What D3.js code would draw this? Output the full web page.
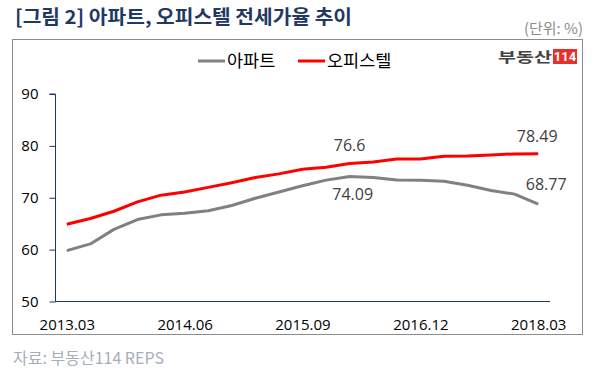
<!DOCTYPE html>
<html>
<head>
<meta charset="utf-8">
<script src="https://cdn.jsdelivr.net/npm/d3@7"></script>
<style>
  body { margin: 0; background: #fff; }
  text { font-family: "Open Sans", "Noto Sans CJK KR", sans-serif; }
</style>
</head>
<body>
<div id="chart"></div>
<script>
var width = 596,
    height = 373;

// quarterly categories
var quarters = ["2013.03","2013.06","2013.09","2013.12",
  "2014.03","2014.06","2014.09","2014.12",
  "2015.03","2015.06","2015.09","2015.12",
  "2016.03","2016.06","2016.09","2016.12",
  "2017.03","2017.06","2017.09","2017.12",
  "2018.03"];
var tickLabels = ["2013.03","2014.06","2015.09","2016.12","2018.03"];
var yTicks = [50, 60, 70, 80, 90];

var apt = [59.8, 61.1, 63.9, 65.8, 66.7, 67.0, 67.5, 68.5, 69.9, 71.1, 72.3,
  73.4, 74.09, 73.9, 73.4, 73.35, 73.2, 72.4, 71.4, 70.7, 68.77];
var officetel = [64.9, 66.0, 67.4, 69.2, 70.5, 71.1, 72.0, 72.9, 73.9, 74.6, 75.5,
  75.9, 76.6, 76.9, 77.45, 77.45, 78.0, 78.05, 78.25, 78.45, 78.49];

var seriesNames = ["아파트", "오피스텔"];
var seriesColors = ["#808080", "#ff0000"];

var svg = d3.select("#chart").append("svg")
  .attr("width", width)
  .attr("height", height);

// title
svg.append("text")
  .attr("x", 15)
  .attr("y", 24)
  .attr("fill", "#1f3864")
  .attr("font-size", 19)
  .attr("font-weight", "bold")
  .attr("textLength", 337)
  .attr("lengthAdjust", "spacingAndGlyphs")
  .style("font-family", "'Noto Sans CJK KR', sans-serif")
  .text("[그림 2] 아파트, 오피스텔 전세가율 추이");

svg.append("text")
  .attr("x", 583)
  .attr("y", 34)
  .attr("text-anchor", "end")
  .attr("fill", "#8c8c8c")
  .attr("font-size", 15)
  .style("font-family", "'Noto Sans CJK KR', sans-serif")
  .text("(단위: %)");

// frame
svg.append("rect")
  .attr("x", 12.5)
  .attr("y", 39.5)
  .attr("width", 570)
  .attr("height", 295)
  .attr("fill", "none")
  .attr("stroke", "#8c8c8c")
  .attr("stroke-width", 1);

// logo
svg.append("text")
  .attr("x", 498)
  .attr("y", 62)
  .attr("fill", "#444")
  .attr("font-size", 14)
  .attr("font-weight", "bold")
  .attr("textLength", 54)
  .attr("lengthAdjust", "spacingAndGlyphs")
  .style("font-family", "'Noto Sans CJK KR', sans-serif")
  .text("부동산");
svg.append("rect")
  .attr("x", 553)
  .attr("y", 49)
  .attr("width", 24)
  .attr("height", 15)
  .attr("fill", "#e8302a");
svg.append("text")
  .attr("x", 565)
  .attr("y", 61)
  .attr("text-anchor", "middle")
  .attr("fill", "#fff")
  .attr("font-size", 13)
  .attr("font-weight", "bold")
  .style("font-family", "'Liberation Sans Narrow', 'Roboto', sans-serif")
  .text("114");

// scales
var x = d3.scalePoint()
  .domain(quarters)
  .range([55, 550])
  .padding(0.5);

var y = d3.scaleLinear()
  .domain([50, 90])
  .range([301.5, 94]);

// y axis
var yAxis = svg.append("g")
  .attr("transform", "translate(55.5,0)")
  .call(d3.axisLeft(y).tickValues(yTicks).tickSize(6).tickPadding(11));
yAxis.select(".domain").attr("stroke", "#1f3864").attr("d", "M-6," + y(90) + "H0V" + y(50));
yAxis.selectAll(".tick line").attr("stroke", "#1f3864");
yAxis.selectAll(".tick text")
  .attr("font-size", 15)
  .attr("fill", "#000")
  .style("font-family", "'Open Sans', sans-serif");

// x axis
var xAxis = svg.append("g")
  .attr("transform", "translate(0,301.5)")
  .call(d3.axisBottom(x).tickValues(tickLabels).tickSize(0).tickPadding(18));
xAxis.select(".domain").attr("stroke", "#1f3864").attr("d", "M55,0H550");
xAxis.selectAll(".tick text")
  .attr("font-size", 15)
  .attr("fill", "#000")
  .style("font-family", "'Open Sans', sans-serif");

// lines
var line = d3.line()
  .x(function(d, i) { return x(quarters[i]); })
  .y(function(d) { return y(d); });

[apt, officetel].forEach(function(s, k) {
  svg.append("path")
    .datum(s)
    .attr("fill", "none")
    .attr("stroke", seriesColors[k])
    .attr("stroke-width", 3)
    .attr("stroke-linejoin", "round")
    .attr("d", line);
});

// data labels
var labels = [
  {s: officetel, i: 12, dx: 0, dy: -13},
  {s: apt, i: 12, dx: 3, dy: 23},
  {s: officetel, i: 20, dx: -1, dy: -12},
  {s: apt, i: 20, dx: 8, dy: -14}
];
labels.forEach(function(l) {
  svg.append("text")
    .attr("x", x(quarters[l.i]) + l.dx)
    .attr("y", y(l.s[l.i]) + l.dy)
    .attr("text-anchor", "middle")
    .attr("fill", "#404040")
    .attr("font-size", 16)
    .style("font-family", "'Open Sans', sans-serif")
    .text(l.s[l.i]);
});

// legend
var legendX = [198, 298];
seriesNames.forEach(function(name, k) {
  svg.append("line")
    .attr("x1", legendX[k])
    .attr("x2", legendX[k] + 27)
    .attr("y1", 61)
    .attr("y2", 61)
    .attr("stroke", seriesColors[k])
    .attr("stroke-width", 3);
  svg.append("text")
    .attr("x", legendX[k] + 29)
    .attr("y", 67)
    .attr("fill", "#000")
    .attr("font-size", 17.5)
    .style("font-family", "'Noto Sans CJK KR', sans-serif")
    .text(name);
});

// source
svg.append("text")
  .attr("x", 13)
  .attr("y", 364)
  .attr("fill", "#a6adbb")
  .attr("font-size", 16)
  .style("font-family", "'Noto Sans CJK KR', sans-serif")
  .text("자료: 부동산114 REPS");
</script>
</body>
</html>
